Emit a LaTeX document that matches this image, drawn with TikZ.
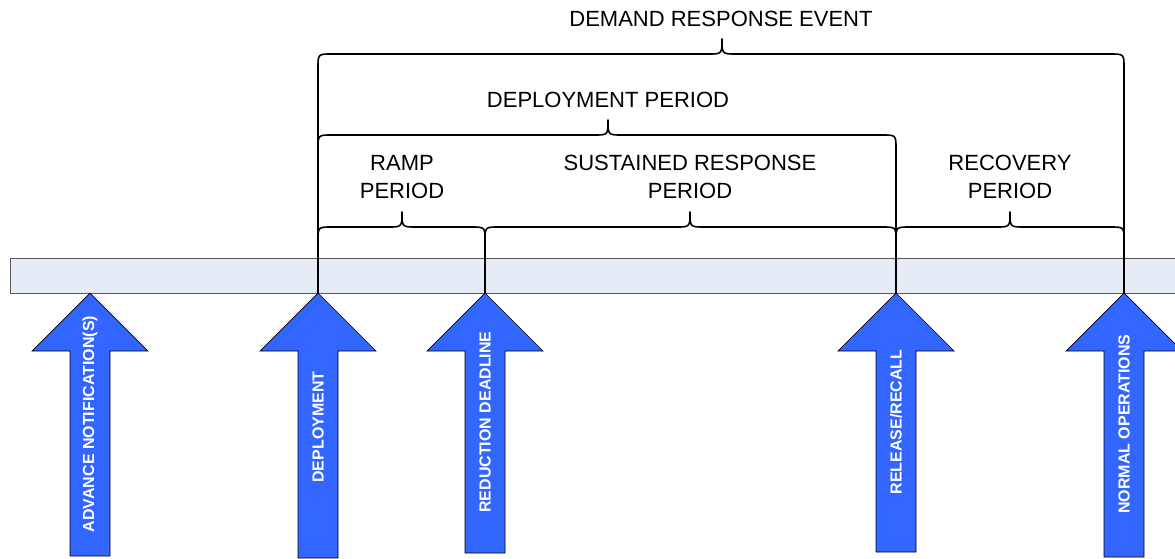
\documentclass[tikz,border=0pt]{standalone}
\usepackage{fontspec}
\setmainfont{Liberation Sans}
\begin{document}
\begin{tikzpicture}[x=1pt,y=-1pt,
  barstyle/.style={draw=black!65,line width=1pt,fill={rgb,255:red,230;green,236;blue,246}},
  upstyle/.style={draw=black,line width=0.7pt,fill={rgb,255:red,51;green,102;blue,255}},
  tick/.style={draw=black,line width=1.6pt},
  bracestyle/.style={draw=black,line width=1.6pt},
  lbl/.style={font=\fontsize{22}{28}\selectfont,align=center,inner sep=0pt},
  arrlbl/.style={font=\bfseries\fontsize{16}{18}\selectfont,text=white,rotate=90,inner sep=0pt}]
\useasboundingbox (0,0) rectangle (1175,558);
\fill[white] (0,0) rectangle (1175,558);
% time bar
\draw[barstyle] (10,258) rectangle (1185,293);
% arrows
\newcommand\evarrow[2]{%
  \draw[upstyle] (#1,293) -- (#1+58,351) -- (#1+20,351) -- (#1+20,#2) -- (#1-20,#2) -- (#1-20,351) -- (#1-58,351) -- cycle;}
\evarrow{90}{556}
\evarrow{318}{558}
\evarrow{485}{553}
\evarrow{896}{552}
\evarrow{1124}{557}
\node[arrlbl] (adv) at (90,424) {ADVANCE NOTIFICATION(S)};
\node[arrlbl] (dep) at (318,427) {DEPLOYMENT};
\node[arrlbl] (red) at (485,422) {REDUCTION DEADLINE};
\node[arrlbl] (rel) at (896,422) {RELEASE/RECALL};
\node[arrlbl] (nor) at (1124,424) {NORMAL OPERATIONS};
% vertical ticks
\coordinate (t1a) at (318,66); \coordinate (t1b) at (318,293);
\coordinate (t2a) at (485,239); \coordinate (t2b) at (485,293);
\coordinate (t3a) at (896,147); \coordinate (t3b) at (896,293);
\coordinate (t4a) at (1124,66); \coordinate (t4b) at (1124,293);
\draw[tick] (t1a) -- (t1b);
\draw[tick] (t2a) -- (t2b);
\draw[tick] (t3a) -- (t3b);
\draw[tick] (t4a) -- (t4b);
% braces: x0, x1, y of horizontal, x of tip, tip height
\newcommand\mybrace[5]{%
  \draw[bracestyle,line join=round] (#1,#3+14) .. controls (#1,#3) .. (#1+14,#3) -- (#4-14,#3)
    .. controls (#4,#3) .. (#4,#3-#5) .. controls (#4,#3) .. (#4+14,#3) -- (#2-14,#3)
    .. controls (#2,#3) .. (#2,#3+14);}
\mybrace{318}{1124}{54}{722}{15}
\mybrace{318}{896}{135}{608}{15}
\mybrace{318}{485}{227}{402}{15}
\mybrace{485}{896}{227}{690}{15}
\mybrace{896}{1124}{227}{1010}{15}
% labels
\node[lbl] (dre) at (721,19) {DEMAND RESPONSE EVENT};
\node[lbl] (dpp) at (608,100) {DEPLOYMENT PERIOD};
\node[lbl] (ramp) at (402,177) {RAMP\\PERIOD};
\node[lbl] (sus) at (690,177) {SUSTAINED RESPONSE\\PERIOD};
\node[lbl] (rec) at (1010,177) {RECOVERY\\PERIOD};
\end{tikzpicture}
\end{document}
